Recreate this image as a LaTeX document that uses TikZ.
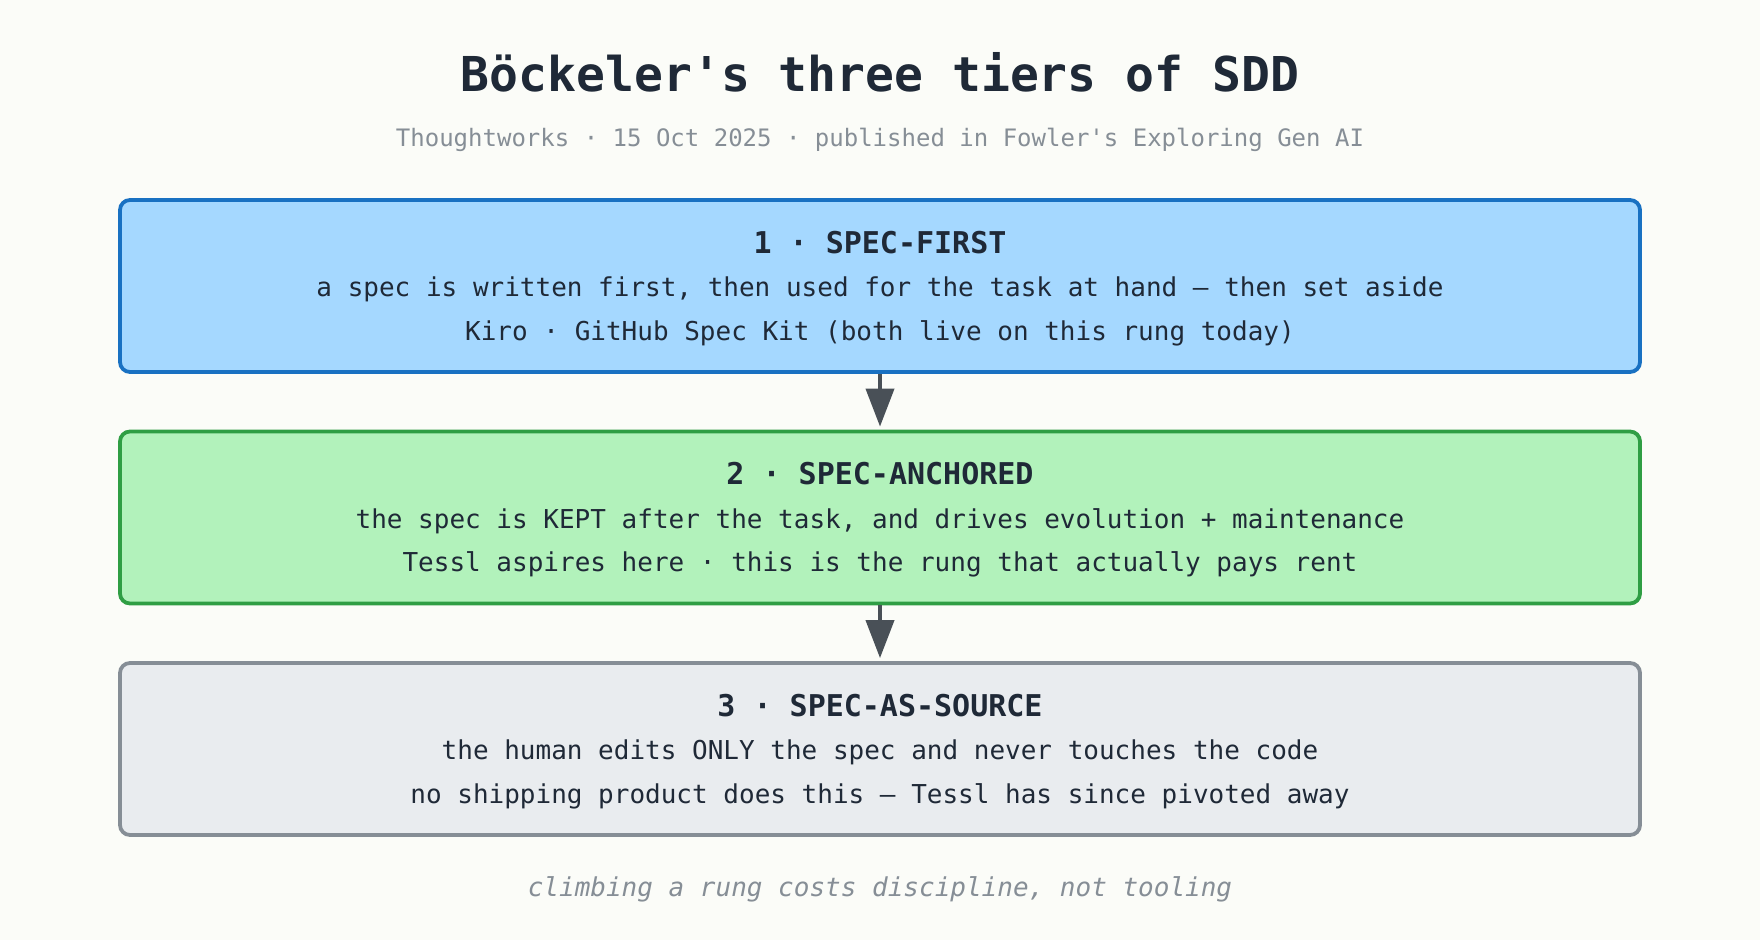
\documentclass[tikz,border=0pt]{standalone}
\usepackage{fontspec}
\setmainfont{DejaVu Sans Mono}[Ligatures=TeXOff]
\usetikzlibrary{positioning,arrows.meta}
\definecolor{paper}{HTML}{FBFCF8}
\definecolor{ink}{HTML}{1F2937}
\definecolor{muted}{HTML}{868E96}
\definecolor{arrowgray}{HTML}{495057}
\definecolor{bluefill}{HTML}{A5D8FF}
\definecolor{blueline}{HTML}{1971C2}
\definecolor{greenfill}{HTML}{B2F2BB}
\definecolor{greenline}{HTML}{2F9E44}
\definecolor{grayfill}{HTML}{E9ECEF}
\definecolor{grayline}{HTML}{868E96}
\tikzset{tier/.style args={#1/#2}{draw=#2, fill=#1, rounded corners=5pt, line width=1.9pt,
	minimum width=760pt, minimum height=86pt, align=center, text=ink,
	font=\fontsize{13pt}{21.75pt}\selectfont}}
\tikzset{arr/.style={draw=arrowgray, line width=2pt, -{Triangle[length=19pt,width=14pt]}, shorten >=1.5pt}}
\newcommand{\tierhead}[1]{{\fontsize{15pt}{21.75pt}\selectfont\bfseries\rule{0pt}{13.4pt}#1}}

\begin{document}
\begin{tikzpicture}[x=0.5pt,y=-0.5pt]
	\fill[paper] (0,0) rectangle (1760,940);
	\node[anchor=base, text=ink, font=\fontsize{24pt}{28pt}\selectfont\bfseries] (title) at (880,92)
		{Böckeler's three tiers of SDD};
	\node[anchor=base, text=muted, font=\fontsize{12pt}{14pt}\selectfont] (sub) at (880,147)
		{Thoughtworks · 15 Oct 2025 · published in Fowler's Exploring Gen AI};
	\node[tier=bluefill/blueline] (first) at (880,286) {\tierhead{1 · SPEC-FIRST}\\
		a spec is written first, then used for the task at hand — then set aside\\
		Kiro · GitHub Spec Kit (both live on this rung today)};
	\node[tier=greenfill/greenline] (anchored) at (880,517.5) {\tierhead{2 · SPEC-ANCHORED}\\
		the spec is KEPT after the task, and drives evolution + maintenance\\
		Tessl aspires here · this is the rung that actually pays rent};
	\node[tier=grayfill/grayline] (source) at (880,749) {\tierhead{3 · SPEC-AS-SOURCE}\\
		the human edits ONLY the spec and never touches the code\\
		no shipping product does this — Tessl has since pivoted away};
	\draw[arr] (first) -- (anchored);
	\draw[arr] (anchored) -- (source);
	\node[anchor=base, text=muted, font=\fontsize{13pt}{15pt}\selectfont\itshape] (moral) at (880,896)
		{climbing a rung costs discipline, not tooling};
\end{tikzpicture}
\end{document}
